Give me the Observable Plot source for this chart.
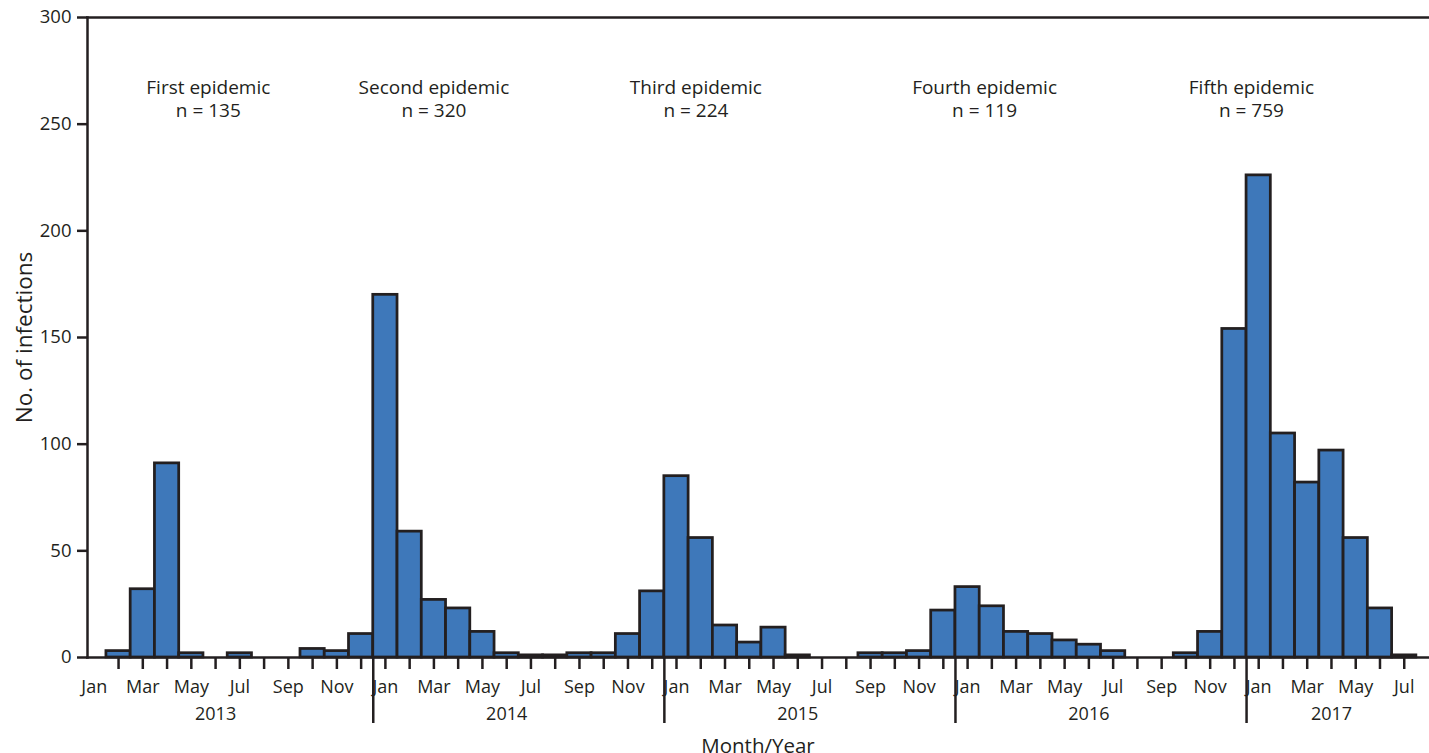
<!DOCTYPE html>
<html>
<head>
<meta charset="utf-8">
<script src="https://cdn.jsdelivr.net/npm/d3@7"></script>
<script src="https://cdn.jsdelivr.net/npm/@observablehq/plot@0.6"></script>
<style>
  html, body { margin: 0; padding: 0; background: #fff; }
  #chart svg { display: block; }
</style>
</head>
<body>
<div id="chart"></div>
<script>
// Monthly counts, Jan 2013 through Jul 2017
const startYear = 2013;
const monthNames = ["Jan","Feb","Mar","Apr","May","Jun","Jul","Aug","Sep","Oct","Nov","Dec"];
const counts2013 = [0, 3, 32, 91, 2, 0, 2, 0, 0, 4, 3, 11];
const counts2014 = [170, 59, 27, 23, 12, 2, 1, 1, 2, 2, 11, 31];
const counts2015 = [85, 56, 15, 7, 14, 1, 0, 0, 2, 2, 3, 22];
const counts2016 = [33, 24, 12, 11, 8, 6, 3, 0, 0, 2, 12, 154];
const counts2017 = [226, 105, 82, 97, 56, 23, 1];

// Epidemic annotations (x in month index units from Jan 2013)
const epidemicNames = ["First epidemic", "Second epidemic", "Third epidemic", "Fourth epidemic", "Fifth epidemic"];
const epidemicN = [135, 320, 224, 119, 759];
const epidemicX = [5.2, 14.5, 25.3, 37.2, 48.2];

const yTicks = [0, 50, 100, 150, 200, 250, 300];

const allCounts = [...counts2013, ...counts2014, ...counts2015, ...counts2016, ...counts2017];
const bars = allCounts.map((count, i) => ({i, count})).filter(d => d.count > 0);
const nMonths = allCounts.length;

const monthTicks = d3.range(1, nMonths).map(i => i + 0.5);
const monthLabelTicks = d3.range(0, nMonths, 2).map(i => i + 0.5);
const yearBoundaries = d3.range(12, nMonths, 12);
const yearLabelPos = d3.range(0, nMonths, 12).map(s => {
  const len = Math.min(12, nMonths - s);
  return s + Math.floor((len - 1) / 2) + 0.5;
});

const annotations = epidemicNames.map((name, k) => ({x: epidemicX[k], label: `${name}\nn = ${epidemicN[k]}`}));

const ink = "#231f20";
const font = "'Open Sans', 'Noto Sans', sans-serif";

const chart = Plot.plot({
  width: 1429,
  height: 753,
  marginTop: 17,
  marginBottom: 96,
  marginLeft: 87,
  marginRight: 1,
  style: {fontFamily: font, fontSize: "18px", color: ink, background: "#fff"},
  x: {domain: [0.22, 55.5]},
  y: {domain: [0, 300]},
  marks: [
    Plot.rectY(bars, {x1: "i", x2: d => d.i + 1, y: "count", fill: "#3e78ba", stroke: ink, strokeWidth: 2.75}),
    Plot.frame({anchor: "left", stroke: ink, strokeWidth: 2.5}),
    Plot.frame({anchor: "bottom", stroke: ink, strokeWidth: 2.5}),
    Plot.frame({anchor: "top", stroke: ink, strokeWidth: 2.5}),
    Plot.axisY(yTicks, {tickSize: 10, tickPadding: 6, fontSize: 18.5, strokeWidth: 2.5, color: ink, label: null}),
    Plot.axisX(monthTicks, {tickSize: 12, tickFormat: () => "", strokeWidth: 2.5, color: ink, label: null}),
    Plot.axisX(monthLabelTicks, {tickSize: 0, tickPadding: 23, fontSize: 18, color: ink, label: null,
      tickFormat: i => monthNames[Math.floor(i) % 12]}),
    Plot.axisX(yearBoundaries, {tickSize: 66, tickFormat: () => "", strokeWidth: 2.5, color: ink, label: null}),
    Plot.axisX(yearLabelPos, {tickSize: 0, tickPadding: 50, fontSize: 18, color: ink, label: null,
      tickFormat: i => String(startYear + Math.floor(i / 12))}),
    Plot.text(annotations, {x: "x", y: 253.3, text: "label", lineAnchor: "bottom", lineHeight: 1.2, fontSize: 19, fill: ink}),
    Plot.text(["No. of infections"], {frameAnchor: "left", dx: -63, rotate: -90, textAnchor: "middle", lineAnchor: "middle", fontSize: 22.5, fill: ink}),
    Plot.text(["Month/Year"], {frameAnchor: "bottom", dy: 95, lineAnchor: "bottom", fontSize: 20.5, fill: ink})
  ]
});

document.getElementById("chart").appendChild(chart);
</script>
</body>
</html>
